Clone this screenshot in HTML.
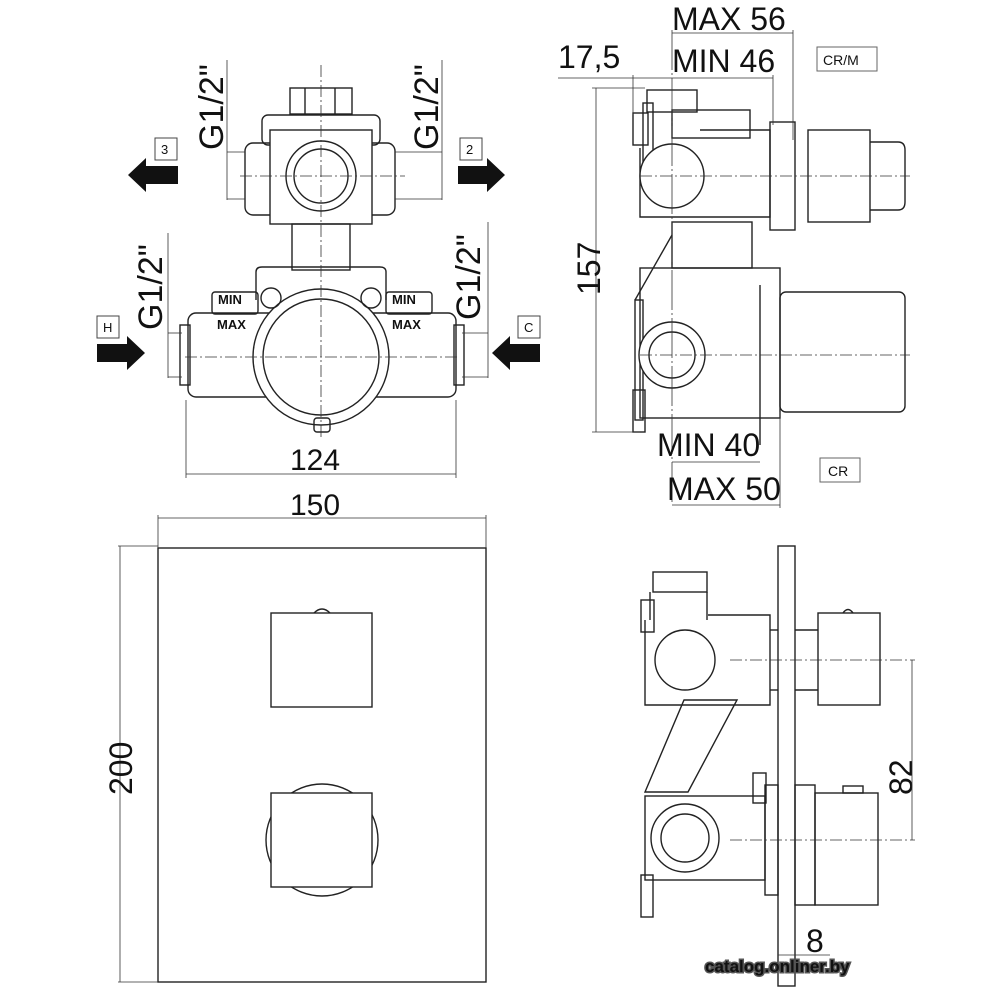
<!DOCTYPE html>
<html><head><meta charset="utf-8"><style>
html,body{margin:0;padding:0;background:#fff}
svg{display:block}
text{font-family:"Liberation Sans",sans-serif;fill:#111}
</style></head><body>
<svg width="1000" height="1000" viewBox="0 0 1000 1000" xmlns="http://www.w3.org/2000/svg">
<g fill="none" stroke="#222" stroke-width="1.4">
<rect x="290" y="88" width="62" height="26"/>
<line x1="305" y1="88" x2="305" y2="114"/><line x1="335" y1="88" x2="335" y2="114"/>
<rect x="262" y="115" width="118" height="30" rx="6"/>
<rect x="245" y="143" width="150" height="72" rx="8"/>
<rect x="270" y="130" width="102" height="94" fill="#fff"/>
<circle cx="321" cy="176" r="35"/><circle cx="321" cy="176" r="27"/>
<rect x="292" y="224" width="58" height="46"/>
<path d="M256 300 V272 Q256 267 262 267 H380 Q386 267 386 272 V300"/>
<rect x="212" y="292" width="46" height="22" rx="3"/>
<rect x="386" y="292" width="46" height="22" rx="3"/>
<rect x="188" y="313" width="268" height="84" rx="8"/>
<rect x="180" y="325" width="10" height="60"/><rect x="454" y="325" width="10" height="60"/>
<circle cx="321" cy="357" r="68" fill="#fff"/><circle cx="321" cy="357" r="58"/>
<circle cx="271" cy="298" r="10"/><circle cx="371" cy="298" r="10"/>
<rect x="314" y="418" width="16" height="14" rx="3"/>
</g>
<g stroke="#333" stroke-width="0.8" fill="none">
<line x1="321" y1="65" x2="321" y2="440" stroke-dasharray="12,3,2,3"/>
<line x1="240" y1="176" x2="405" y2="176" stroke-dasharray="12,3,2,3"/>
<line x1="185" y1="357" x2="460" y2="357" stroke-dasharray="12,3,2,3"/>
<line x1="227" y1="60" x2="227" y2="200"/><line x1="227" y1="152" x2="245" y2="152"/><line x1="227" y1="199" x2="245" y2="199"/>
<line x1="442" y1="60" x2="442" y2="200"/><line x1="395" y1="152" x2="442" y2="152"/><line x1="395" y1="199" x2="442" y2="199"/>
<line x1="168" y1="233" x2="168" y2="378"/><line x1="168" y1="333" x2="182" y2="333"/><line x1="168" y1="377" x2="182" y2="377"/>
<line x1="488" y1="222" x2="488" y2="378"/><line x1="462" y1="333" x2="488" y2="333"/><line x1="462" y1="377" x2="488" y2="377"/>
<line x1="186" y1="400" x2="186" y2="478"/><line x1="456" y1="400" x2="456" y2="478"/><line x1="186" y1="474" x2="456" y2="474"/>
</g>
<g font-size="13" font-weight="bold">
<text x="218" y="304">MIN</text>
<text x="217" y="329">MAX</text>
<text x="392" y="304">MIN</text>
<text x="392" y="329">MAX</text>
</g>
<g font-size="34">
<text transform="translate(223,150) rotate(-90)">G1/2"</text>
<text transform="translate(438,150) rotate(-90)">G1/2"</text>
<text transform="translate(162,330) rotate(-90)">G1/2"</text>
<text transform="translate(480,320) rotate(-90)">G1/2"</text>
<text x="290" y="470" font-size="30">124</text>
<text x="290" y="515" font-size="30">150</text>
</g>
<g fill="#111">
<polygon points="128,175 146,158 146,166 178,166 178,184 146,184 146,192"/>
<polygon points="505,175 487,158 487,166 458,166 458,184 487,184 487,192"/>
<polygon points="145,353 127,336 127,344 97,344 97,362 127,362 127,370"/>
<polygon points="492,353 510,336 510,344 540,344 540,362 510,362 510,370"/>
</g>
<g fill="#fff" stroke="#444" stroke-width="1">
<rect x="155" y="138" width="22" height="22"/><rect x="460" y="138" width="22" height="22"/>
<rect x="97" y="316" width="22" height="22"/><rect x="518" y="316" width="22" height="22"/>
</g>
<g font-size="13"><text x="161" y="154">3</text><text x="466" y="154">2</text><text x="103" y="332">H</text><text x="524" y="332">C</text></g>

<g fill="none" stroke="#222" stroke-width="1.4">
<rect x="647" y="90" width="50" height="22"/>
<rect x="643" y="103" width="10" height="60"/>
<rect x="633" y="113" width="15" height="32"/>
<path d="M640 148 V217 H770 V130 H700"/>
<rect x="672" y="110" width="78" height="28"/>
<circle cx="672" cy="176" r="32" fill="#fff"/>
<rect x="770" y="122" width="25" height="108"/>
<rect x="808" y="130" width="62" height="92"/>
<path d="M870 142 H898 Q905 142 905 150 V202 Q905 210 898 210 H870"/>
<rect x="672" y="222" width="80" height="46"/>
<path d="M672 235 L635 300"/>
<rect x="640" y="268" width="140" height="150"/>
<rect x="635" y="300" width="8" height="120"/>
<rect x="633" y="390" width="12" height="42"/>
<circle cx="672" cy="355" r="33" fill="#fff"/><circle cx="672" cy="355" r="23"/>
<rect x="780" y="292" width="125" height="120" rx="6"/>
<line x1="760" y1="285" x2="760" y2="445"/>
</g>
<g stroke="#333" stroke-width="0.8" fill="none">
<line x1="672" y1="30" x2="672" y2="505" stroke-dasharray="40,3,2,3"/>
<line x1="640" y1="176" x2="910" y2="176" stroke-dasharray="12,3,2,3"/>
<line x1="640" y1="355" x2="910" y2="355" stroke-dasharray="12,3,2,3"/>
<line x1="672" y1="33" x2="793" y2="33"/><line x1="793" y1="30" x2="793" y2="140"/>
<line x1="558" y1="78" x2="773" y2="78"/><line x1="773" y1="75" x2="773" y2="125"/><line x1="633" y1="75" x2="633" y2="115"/>
<line x1="596" y1="88" x2="596" y2="432"/><line x1="592" y1="88" x2="645" y2="88"/><line x1="592" y1="432" x2="640" y2="432"/>
<line x1="672" y1="462" x2="760" y2="462"/>
<line x1="672" y1="505" x2="780" y2="505"/><line x1="780" y1="412" x2="780" y2="508"/>
</g>
<g font-size="32">
<text x="672" y="30">MAX 56</text>
<text x="672" y="72">MIN 46</text>
<text x="558" y="68">17,5</text>
<text transform="translate(600,295) rotate(-90)">157</text>
<text x="657" y="456">MIN 40</text>
<text x="667" y="500">MAX 50</text>
<text transform="translate(912,795) rotate(-90)">82</text>
<text x="806" y="952">8</text>
</g>
<rect x="817" y="47" width="60" height="24" fill="none" stroke="#666"/>
<text x="823" y="65" font-size="14">CR/M</text>
<rect x="820" y="458" width="40" height="24" fill="none" stroke="#666"/>
<text x="828" y="476" font-size="14">CR</text>

<g fill="none" stroke="#222" stroke-width="1.4">
<rect x="158" y="548" width="328" height="434"/>
<rect x="271" y="613" width="101" height="94"/>
<path d="M314 613 Q322 605 330 613"/>
<circle cx="322" cy="840" r="56"/>
<rect x="271" y="793" width="101" height="94" fill="#fff"/>
</g>
<g stroke="#333" stroke-width="0.8">
<line x1="158" y1="518" x2="486" y2="518"/><line x1="158" y1="515" x2="158" y2="548"/><line x1="486" y1="515" x2="486" y2="548"/>
<line x1="120" y1="546" x2="120" y2="982"/><line x1="118" y1="546" x2="158" y2="546"/><line x1="118" y1="982" x2="158" y2="982"/>
</g>
<text transform="translate(132,795) rotate(-90)" font-size="32">200</text>

<g fill="none" stroke="#222" stroke-width="1.4">
<rect x="778" y="546" width="17" height="440"/>
<rect x="653" y="572" width="54" height="20"/>
<path d="M650 592 V620 M707 592 V620"/>
<rect x="641" y="600" width="13" height="32"/>
<path d="M645 620 V705 H770 V615 H708"/>
<circle cx="685" cy="660" r="30" fill="#fff"/>
<line x1="770" y1="630" x2="778" y2="630"/><line x1="770" y1="690" x2="778" y2="690"/>
<line x1="795" y1="630" x2="818" y2="630"/><line x1="795" y1="690" x2="818" y2="690"/>
<rect x="818" y="613" width="62" height="92"/>
<path d="M843 613 Q848 606 853 613"/>
<path d="M684 700 L737 700 L688 792 L645 792 Z"/>
<rect x="645" y="796" width="120" height="84"/>
<rect x="753" y="773" width="13" height="30"/>
<rect x="765" y="785" width="13" height="110"/>
<circle cx="685" cy="838" r="34" fill="#fff"/><circle cx="685" cy="838" r="24"/>
<rect x="795" y="785" width="20" height="120"/>
<rect x="815" y="793" width="63" height="112"/>
<rect x="843" y="786" width="20" height="7"/>
<rect x="641" y="875" width="12" height="42"/>
</g>
<g stroke="#333" stroke-width="0.8" fill="none">
<line x1="730" y1="660" x2="915" y2="660" stroke-dasharray="12,3,2,3"/>
<line x1="730" y1="840" x2="915" y2="840" stroke-dasharray="12,3,2,3"/>
<line x1="912" y1="660" x2="912" y2="840"/>
<line x1="778" y1="955" x2="830" y2="955"/>
</g>
<text x="705" y="972" font-size="17" font-weight="bold" fill="#fff" stroke="#555" stroke-width="3" paint-order="stroke">catalog.onliner.by</text>
</svg>
</body></html>
